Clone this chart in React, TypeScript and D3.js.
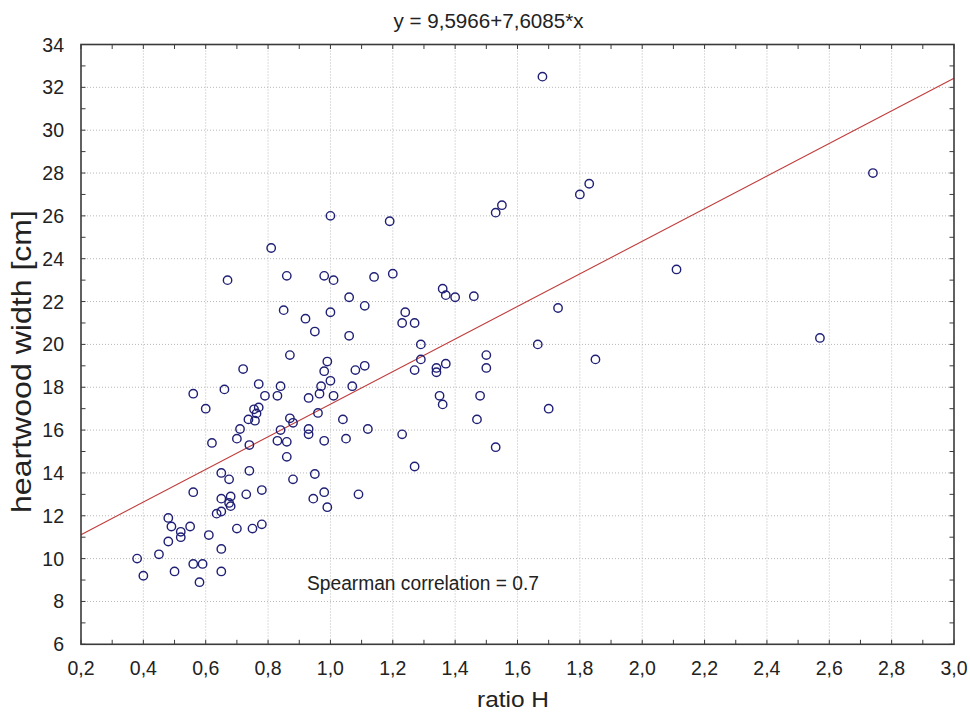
import React from "react";
import * as d3 from "d3";

const ratioH = [
  1.68, 1.83, 1.80, 2.74, 2.11, 1.73, 1.665, 2.57, 1.85, 1.70,
  1.55, 1.53, 1.00, 1.19, 0.98, 1.01, 1.14, 1.20, 1.06, 1.36,
  1.37, 1.40, 1.46, 1.00, 1.11, 1.24, 1.23, 1.27, 1.06, 1.29,
  1.50, 1.50, 0.99, 0.98, 1.00, 0.97, 0.965, 1.08, 1.11, 1.27,
  1.29, 1.34, 1.34, 1.37, 1.07, 1.01, 1.35, 1.36, 1.48, 1.04,
  1.47, 1.12, 0.96, 0.98, 1.05, 1.23, 1.53, 1.27, 0.98, 1.09,
  0.99, 0.81, 0.67, 0.86, 0.85, 0.92, 0.95, 0.87, 0.72, 0.77,
  0.84, 0.56, 0.66, 0.79, 0.83, 0.93, 0.60, 0.755, 0.77, 0.763,
  0.737, 0.758, 0.87, 0.88, 0.71, 0.84, 0.93, 0.93, 0.70, 0.62,
  0.83, 0.86, 0.74, 0.86, 0.65, 0.74, 0.675, 0.88, 0.95, 0.56,
  0.73, 0.78, 0.65, 0.68, 0.675, 0.68, 0.945, 0.635, 0.65, 0.48,
  0.49, 0.52, 0.52, 0.55, 0.48, 0.61, 0.70, 0.75, 0.78, 0.65,
  0.38, 0.45, 0.56, 0.59, 0.50, 0.65, 0.40, 0.58,
];

const heartwoodWidth = [
  32.5, 27.5, 27.0, 28.0, 23.5, 21.7, 20.0, 20.3, 19.3, 17.0,
  26.5, 26.15, 26.0, 25.75, 23.2, 23.0, 23.15, 23.3, 22.2, 22.6,
  22.3, 22.2, 22.25, 21.5, 21.8, 21.5, 21.0, 21.0, 20.4, 20.0,
  19.5, 18.9, 19.2, 18.75, 18.3, 18.05, 17.7, 18.8, 19.0, 18.8,
  19.3, 18.9, 18.7, 19.1, 18.05, 17.6, 17.6, 17.2, 17.6, 16.5,
  16.5, 16.05, 16.8, 15.5, 15.6, 15.8, 15.2, 14.3, 13.1, 13.0,
  12.4, 24.5, 23.0, 23.2, 21.6, 21.2, 20.6, 19.5, 18.85, 18.15,
  18.05, 17.7, 17.9, 17.6, 17.6, 17.5, 17.0, 16.97, 17.06, 16.78,
  16.5, 16.44, 16.55, 16.34, 16.05, 16.0, 16.05, 15.8, 15.6, 15.4,
  15.5, 15.45, 15.3, 14.75, 14.0, 14.1, 13.7, 13.7, 13.95, 13.1,
  13.0, 13.2, 12.8, 12.9, 12.6, 12.45, 12.8, 12.1, 12.2, 11.9,
  11.5, 11.25, 11.0, 11.5, 10.8, 11.1, 11.4, 11.4, 11.6, 10.45,
  10.0, 10.2, 9.75, 9.75, 9.4, 9.4, 9.2, 8.9,
];

const xTicks = [0.2, 0.4, 0.6, 0.8, 1.0, 1.2, 1.4, 1.6, 1.8, 2.0, 2.2, 2.4, 2.6, 2.8, 3.0];
const yTicks = [6, 8, 10, 12, 14, 16, 18, 20, 22, 24, 26, 28, 30, 32, 34];
const intercept = 9.5966;
const slope = 7.6085;
const titleText = "y = 9,5966+7,6085*x";
const xTitle = "ratio H";
const yTitle = "heartwood width [cm]";
const annotation = "Spearman correlation = 0.7";

export default function App() {
  const x = d3.scaleLinear().domain([0.2, 3.0]).range([81, 954]);
  const y = d3.scaleLinear().domain([6, 34]).range([644.3, 44.5]);
  const [x0, x1] = x.range();
  const [yb, yt] = y.range();

  const xMinor = d3.range(0.3, 3.0, 0.2);
  const yMinor = d3.range(7, 34, 2);
  const fmt = (v: number) => v.toFixed(1).replace(".", ",");

  const line = d3
    .line<number>()
    .x((v) => x(v))
    .y((v) => y(intercept + slope * v));

  const font = "'Liberation Sans', Arial, sans-serif";
  const frame = "#3a3a3a";
  const grid = "#b8b8b8";
  const tickLen = 4.5;

  return (
    <svg
      width={970}
      height={714}
      style={{ position: "absolute", left: 0, top: 0, background: "#fff" }}
    >
      <rect x={0} y={0} width={970} height={714} fill="#fff" />
      {/* grid */}
      {xTicks.slice(1, -1).map((t) => (
        <line key={"gx" + t} x1={x(t)} x2={x(t)} y1={yt} y2={yb} stroke={grid} strokeWidth={1} strokeDasharray="1,2" />
      ))}
      {yTicks.slice(1, -1).map((t) => (
        <line key={"gy" + t} x1={x0} x2={x1} y1={y(t)} y2={y(t)} stroke={grid} strokeWidth={1} strokeDasharray="1,2" />
      ))}
      {/* regression */}
      <path d={line([0.2, 3.0]) || ""} fill="none" stroke="#c03c3c" strokeWidth={1.1} />
      {/* points */}
      {ratioH.map((v, i) => (
        <circle key={i} cx={x(v)} cy={y(heartwoodWidth[i])} r={4.2} fill="none" stroke="#1f1f75" strokeWidth={1.4} />
      ))}
      {/* ticks */}
      {[...xTicks, ...xMinor].map((t, i) => (
        <g key={"xt" + i}>
          <line x1={x(t)} x2={x(t)} y1={yb} y2={yb - tickLen} stroke={frame} strokeWidth={1} />
          <line x1={x(t)} x2={x(t)} y1={yt} y2={yt + tickLen} stroke={frame} strokeWidth={1} />
        </g>
      ))}
      {[...yTicks, ...yMinor].map((t, i) => (
        <g key={"yt" + i}>
          <line x1={x0} x2={x0 + tickLen} y1={y(t)} y2={y(t)} stroke={frame} strokeWidth={1} />
          <line x1={x1} x2={x1 - tickLen} y1={y(t)} y2={y(t)} stroke={frame} strokeWidth={1} />
        </g>
      ))}
      {/* frame */}
      <rect x={x0} y={yt} width={x1 - x0} height={yb - yt} fill="none" stroke={frame} strokeWidth={1.6} />
      {/* tick labels */}
      {xTicks.map((t) => (
        <text key={"xl" + t} x={x(t)} y={675} textAnchor="middle" fontFamily={font} fontSize={19.5} fill="#222">
          {fmt(t)}
        </text>
      ))}
      {yTicks.map((t) => (
        <text key={"yl" + t} x={64} y={y(t)} dy="0.36em" textAnchor="end" fontFamily={font} fontSize={19.5} fill="#222">
          {t}
        </text>
      ))}
      {/* titles */}
      <text x={488.5} y={28} textAnchor="middle" fontFamily={font} fontSize={20} fill="#222" textLength={190} lengthAdjust="spacingAndGlyphs">
        {titleText}
      </text>
      <text x={513} y={707} textAnchor="middle" fontFamily={font} fontSize={22} fill="#222" textLength={72} lengthAdjust="spacingAndGlyphs">
        {xTitle}
      </text>
      <text
        transform={`translate(31,361.5) rotate(-90)`}
        textAnchor="middle"
        fontFamily={font}
        fontSize={28}
        fill="#222"
        textLength={303}
        lengthAdjust="spacingAndGlyphs"
      >
        {yTitle}
      </text>
      <text x={307} y={590} fontFamily={font} fontSize={20} fill="#222" textLength={232} lengthAdjust="spacingAndGlyphs">
        {annotation}
      </text>
    </svg>
  );
}
